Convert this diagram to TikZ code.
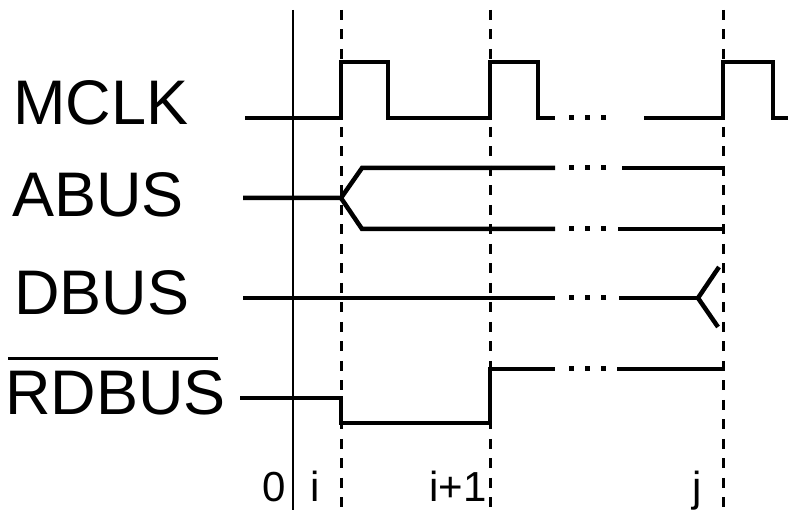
\documentclass[tikz,border=0pt]{standalone}
\usepackage{fontspec}
\setmainfont{Liberation Sans}
\begin{document}
\begin{tikzpicture}[x=1pt, y=-1pt,
  sigline/.style={line width=4.5pt, line join=miter},
  markline/.style={line width=3pt, dash pattern=on 10pt off 9.5pt},
  big/.style={font=\fontsize{63}{70}\selectfont, inner sep=0pt, anchor=base west},
  small/.style={font=\fontsize{42}{48}\selectfont, inner sep=0pt, anchor=base}]
  \useasboundingbox (0, 0) rectangle (788, 510);
  \draw[line width=2.5pt] (293, 10) -- (293, 510);
  \foreach \x in {341, 490, 723}
    \draw[markline] (\x, 10) -- (\x, 510);
  \node[big] (mclk) at (13, 125) {MCLK};
  \node[big] (abus) at (12, 217) {ABUS};
  \node[big] (dbus) at (14, 315) {DBUS};
  \node[big] (rdbus) at (5, 415) {RDBUS};
  \draw[line width=3pt] ([xshift=3pt, yshift=12pt]rdbus.north west)
    -- ([xshift=-7.5pt, yshift=12pt]rdbus.north east);
  \draw[sigline] (245, 118) -- (341, 118) -- (341, 62) -- (388, 62) -- (388, 118)
    -- (490, 118) -- (490, 62) -- (538, 62) -- (538, 118) -- (555, 118);
  \draw[sigline] (644, 118) -- (723, 118) -- (723, 62) -- (773, 62) -- (773, 118) -- (788, 118);
  \draw[sigline] (243, 198) -- (341, 198) -- (362, 168) -- (555, 168);
  \draw[sigline] (341, 198) -- (362, 229) -- (555, 229);
  \draw[sigline] (622, 168) -- (722, 168);
  \draw[sigline] (618, 229) -- (722, 229);
  \draw[sigline] (243, 298) -- (555, 298);
  \draw[sigline] (719, 267) -- (698, 298) -- (718, 327);
  \draw[sigline] (619, 298) -- (698, 298);
  \draw[sigline] (240, 398) -- (341, 398) -- (341, 423) -- (490, 423) -- (490, 369) -- (555, 369);
  \draw[sigline] (617, 369) -- (722, 369);
  \foreach \y in {118, 168, 229, 298, 369}
    \foreach \x in {571, 587, 603}
      \fill (\x-2.5, \y-2.5) rectangle ++(5, 5);
  \node[small] (t0) at (274, 502) {0};
  \node[small] (ti) at (315, 502) {i};
  \node[small] (ti1) at (458, 502) {i+1};
  \node[small] (tj) at (697, 502) {j};
\end{tikzpicture}
\end{document}
